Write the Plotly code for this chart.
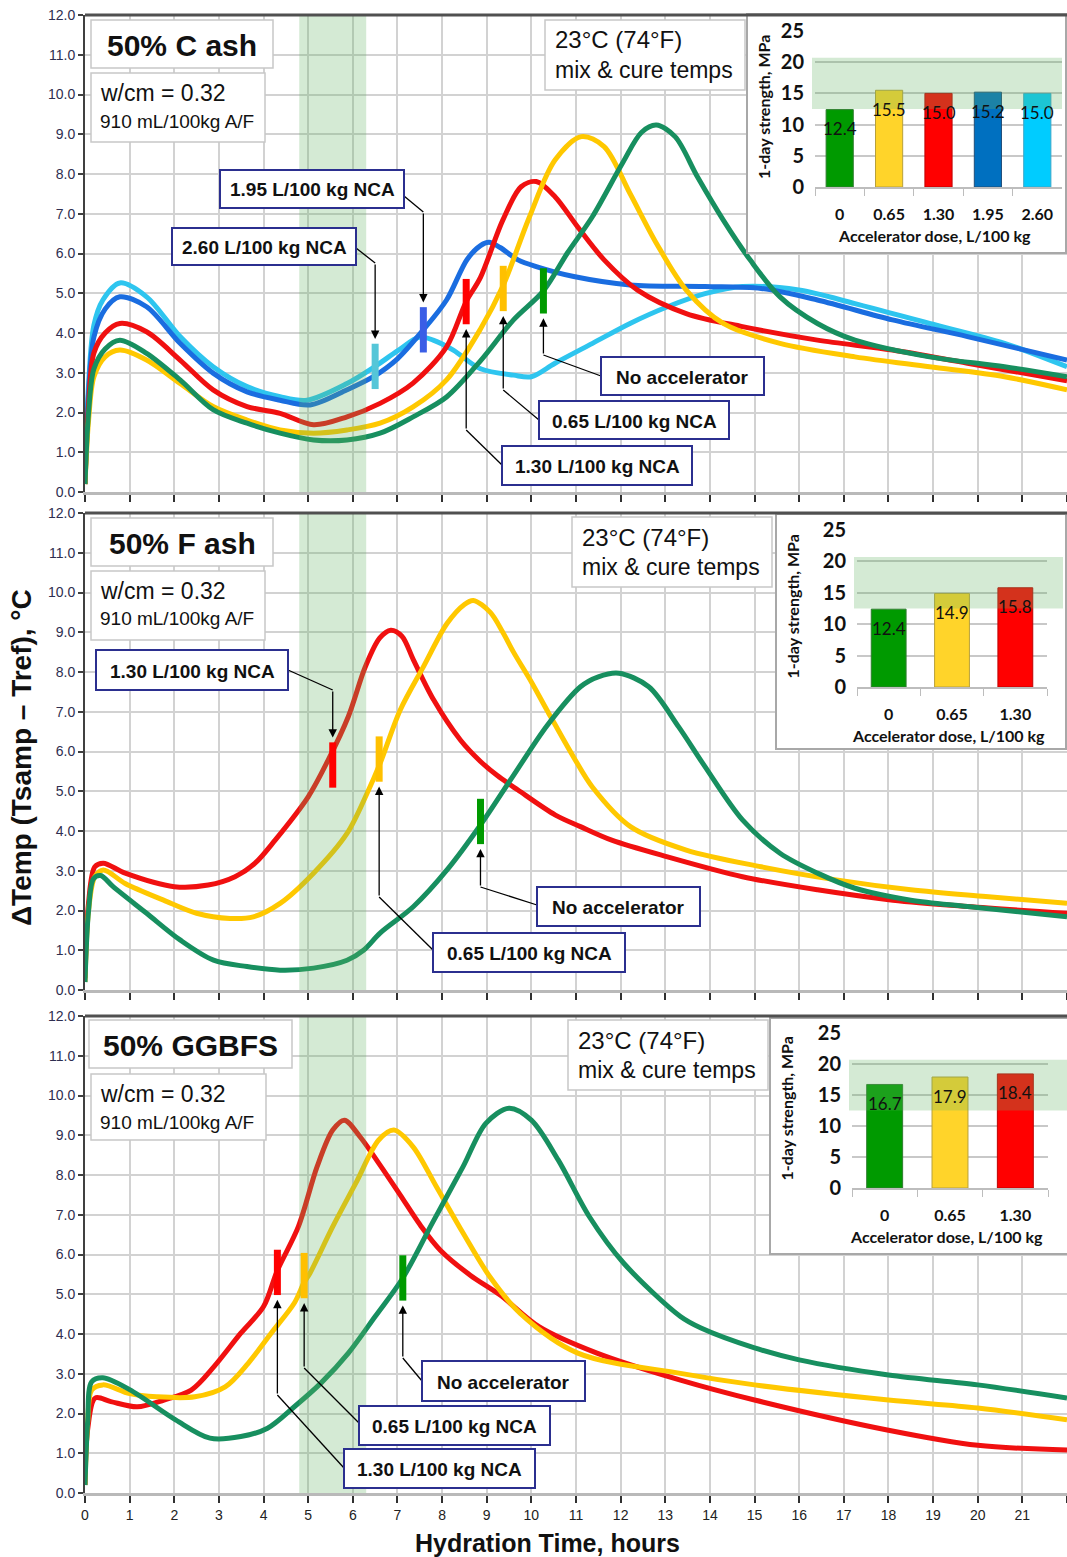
import plotly.graph_objects as go

W, H = 1067, 1557
X0_PX = 85
HOUR_PX = (1067 - 85) / 22
UNIT_PX = 477 / 12

ARIAL = "Liberation Sans, Arial, sans-serif"
CALI = "Lato, Carlito, Calibri, sans-serif"

GREEN, YELLOW, RED, BLUE, CYAN = "#178f5f", "#ffc800", "#f01010", "#1a6de0", "#2ec5ef"

# ---------------- 50% Class C fly ash ----------------
c_none_t = [0, 0.08, 0.2, 0.45, 0.78, 1.38, 2.13, 2.87, 3.63, 4.37, 5.12, 5.87, 6.61, 7.35, 8.1, 8.86, 9.6, 10.27,
            10.8, 11.37, 12.04, 12.47, 12.8, 13.22, 13.72, 14.3, 14.9, 15.57, 16.41, 17.25, 18.92, 20.6, 22]
c_none_v = [0.2, 2.0, 3.1, 3.6, 3.82, 3.49, 2.82, 2.07, 1.73, 1.48, 1.31, 1.31, 1.48, 1.89, 2.39, 3.3, 4.33, 5.06,
            6.0, 6.93, 8.27, 9.05, 9.23, 8.94, 7.93, 6.84, 5.84, 4.91, 4.24, 3.82, 3.4, 3.15, 2.9]
c_065_t = [0, 0.08, 0.2, 0.45, 0.78, 1.38, 2.13, 2.87, 3.63, 4.37, 5.12, 5.87, 6.61, 7.35, 8.1, 8.86, 9.37, 9.95,
           10.53, 11.12, 11.63, 12.21, 12.8, 13.47, 14.3, 15.57, 17.25, 18.92, 20.6, 22]
c_065_v = [0.2, 1.8, 2.9, 3.4, 3.57, 3.32, 2.73, 2.15, 1.81, 1.56, 1.48, 1.56, 1.73, 2.14, 2.82, 4.1, 5.2, 6.9,
           8.35, 8.94, 8.69, 7.51, 6.26, 5.08, 4.24, 3.74, 3.4, 3.15, 2.9, 2.57]
c_130_t = [0, 0.08, 0.2, 0.45, 0.78, 1.38, 2.13, 2.87, 3.63, 4.37, 5.12, 5.87, 6.61, 7.35, 8.1, 8.54, 8.86, 9.36,
           9.77, 10.11, 10.53, 11.03, 11.63, 12.38, 13.47, 14.73, 16.41, 18.09, 19.77, 22]
c_130_v = [0.2, 2.2, 3.5, 4.0, 4.24, 4.03, 3.32, 2.57, 2.15, 1.98, 1.69, 1.89, 2.23, 2.74, 3.65, 4.79, 5.4, 6.84,
           7.68, 7.81, 7.43, 6.68, 5.84, 5.08, 4.49, 4.16, 3.82, 3.57, 3.24, 2.8]
c_195_t = [0, 0.08, 0.2, 0.45, 0.78, 1.38, 2.13, 2.87, 3.63, 4.37, 5.04, 5.87, 6.46, 7.0, 7.58, 8.1, 8.56, 8.86,
           9.05, 9.3, 9.7, 10.11, 10.95, 12.21, 13.89, 15.15, 16.41, 18.09, 19.77, 22]
c_195_v = [0.2, 2.5, 3.9, 4.6, 4.91, 4.66, 3.74, 2.99, 2.52, 2.31, 2.19, 2.57, 2.9, 3.35, 4.08, 4.83, 5.85, 6.2,
           6.28, 6.15, 5.84, 5.67, 5.42, 5.21, 5.17, 5.12, 4.83, 4.33, 3.91, 3.32]
c_260_t = [0, 0.08, 0.2, 0.4, 0.78, 1.38, 2.13, 2.87, 3.63, 4.37, 4.97, 5.87, 6.5, 7.0, 7.5, 7.8, 8.25, 8.86, 9.6,
           10.0, 10.53, 11.37, 12.21, 13.05, 13.89, 14.73, 15.99, 17.25, 18.92, 20.6, 22]
c_260_v = [0.2, 2.7, 4.2, 4.83, 5.26, 4.91, 3.91, 3.15, 2.65, 2.4, 2.31, 2.73, 3.16, 3.55, 3.9, 3.82, 3.57, 3.1,
           2.94, 2.9, 3.24, 3.74, 4.24, 4.66, 4.99, 5.17, 5.08, 4.74, 4.24, 3.74, 3.15]
c_set_t = [10.27, 9.37, 8.54, 7.58, 6.50]
c_set_v = [5.06, 5.12, 4.79, 4.08, 3.16]
c_doses = ["0", "0.65", "1.30", "1.95", "2.60"]
c_strength = [12.4, 15.5, 15.0, 15.2, 15.0]

# ---------------- 50% Class F fly ash ----------------
f_none_t = [0, 0.08, 0.19, 0.35, 0.63, 1.38, 2.13, 2.88, 3.63, 4.37, 5.12, 5.87, 6.24, 6.61, 7.36, 8.11, 8.86, 9.6,
            10.35, 11.1, 11.5, 11.96, 12.63, 13.3, 13.89, 14.73, 15.57, 16.41, 17.25, 18.5, 19.77, 22]
f_none_v = [0.2, 2.0, 2.8, 2.88, 2.6, 1.93, 1.26, 0.75, 0.59, 0.5, 0.55, 0.75, 1.0, 1.43, 2.1, 3.02, 4.15, 5.4,
            6.65, 7.63, 7.88, 7.97, 7.63, 6.62, 5.62, 4.28, 3.44, 2.94, 2.56, 2.26, 2.1, 1.84]
f_065_t = [0, 0.08, 0.22, 0.41, 0.9, 1.76, 2.5, 3.25, 3.77, 4.37, 5.12, 5.87, 6.32, 6.61, 7.06, 7.58, 8.11, 8.5,
           8.7, 9.08, 9.36, 9.6, 10.0, 10.35, 10.95, 11.37, 12.22, 13.47, 15.15, 16.83, 18.5, 20.18, 22]
f_065_v = [0.2, 2.0, 2.85, 3.02, 2.68, 2.26, 1.93, 1.8, 1.84, 2.18, 2.94, 3.94, 4.95, 5.7, 7.04, 8.13, 9.22, 9.7,
           9.8, 9.5, 9.0, 8.5, 7.75, 7.04, 5.85, 5.1, 4.11, 3.52, 3.1, 2.77, 2.52, 2.35, 2.18]
f_130_t = [0, 0.08, 0.22, 0.41, 0.9, 2.0, 2.76, 3.36, 3.81, 4.26, 5.0, 5.45, 5.9, 6.28, 6.6, 6.85, 7.1, 7.36, 7.81,
           8.41, 8.86, 9.23, 9.7, 10.54, 11.1, 11.8, 13.05, 14.73, 16.41, 18.1, 19.77, 22]
f_130_v = [0.3, 2.2, 3.1, 3.19, 2.94, 2.6, 2.64, 2.85, 3.19, 3.77, 4.86, 5.79, 6.88, 8.13, 8.85, 9.05, 8.9, 8.3, 7.3,
           6.29, 5.75, 5.4, 5.03, 4.4, 4.11, 3.77, 3.35, 2.85, 2.52, 2.26, 2.1, 1.93]
f_set_t = [8.86, 6.59, 5.55]
f_set_v = [4.24, 5.81, 5.66]
f_doses = ["0", "0.65", "1.30"]
f_strength = [12.4, 14.9, 15.8]

# ---------------- 50% GGBFS ----------------
g_none_t = [0, 0.06, 0.15, 0.4, 1.0, 2.03, 2.8, 3.49, 4.09, 4.69, 5.29, 5.9, 6.5, 7.12, 7.78, 8.47, 8.98, 9.5,
            10.0, 10.6, 11.3, 12.07, 13.34, 13.8, 15.0, 16.0, 18.0, 20.0, 22]
g_none_v = [0.2, 1.8, 2.8, 2.9, 2.6, 1.84, 1.38, 1.42, 1.63, 2.17, 2.77, 3.52, 4.44, 5.41, 6.79, 8.21, 9.3, 9.68,
            9.38, 8.38, 6.95, 5.78, 4.44, 4.15, 3.65, 3.35, 2.97, 2.72, 2.39]
g_065_t = [0, 0.06, 0.15, 0.4, 1.0, 1.6, 2.46, 3.14, 3.66, 4.17, 4.69, 4.91, 5.04, 5.55, 6.07, 6.58, 6.92, 7.35,
           7.87, 8.47, 9.07, 9.75, 11.04, 13.34, 15.0, 18.0, 20.0, 22]
g_065_v = [0.2, 1.8, 2.59, 2.72, 2.5, 2.42, 2.42, 2.67, 3.27, 4.02, 4.78, 5.3, 5.53, 6.7, 7.8, 8.88, 9.13, 8.71,
           7.71, 6.54, 5.44, 4.52, 3.52, 3.01, 2.72, 2.34, 2.14, 1.84]
g_130_t = [0, 0.06, 0.23, 0.58, 1.17, 1.77, 2.38, 2.89, 3.49, 4.0, 4.31, 4.78, 5.2, 5.55, 5.81, 6.17, 6.61, 7.06,
           7.51, 7.96, 8.63, 9.3, 10.18, 11.47, 13.34, 15.0, 18.0, 20.0, 22]
g_130_v = [0.2, 1.6, 2.39, 2.3, 2.17, 2.34, 2.59, 3.18, 4.02, 4.69, 5.6, 6.7, 8.21, 9.13, 9.38, 8.95, 8.25, 7.5,
           6.74, 6.11, 5.48, 4.98, 4.18, 3.52, 2.84, 2.34, 1.58, 1.2, 1.08]
g_set_t = [7.12, 4.91, 4.31]
g_set_v = [5.41, 5.47, 5.55]
g_doses = ["0", "0.65", "1.30"]
g_strength = [16.7, 17.9, 18.4]

# shaded time window (hours) and target strength range (MPa)
window_hours = [4.8, 6.3]
target_mpa = [12.5, 20.7]

MARK_HALF = 0.57


def fx(p):
    return p / W


def fy(p):
    return 1 - p / H


panels = [
    dict(top=15, bottom=492, title="50% C ash", title_box=(91, 20, 273, 68), info_box=(91, 73, 265, 142),
         temp_box=(545, 20, 745, 90),
         curves=[(c_260_t, c_260_v, CYAN), (c_195_t, c_195_v, BLUE), (c_130_t, c_130_v, RED),
                 (c_065_t, c_065_v, YELLOW), (c_none_t, c_none_v, GREEN)],
         set_t=c_set_t, set_v=c_set_v, set_colors=["#009a00", "#ffc000", "#ff0000", "#3a5ee6", "#55c6d8"],
         doses=c_doses, strength=c_strength,
         bar_colors=["#009a00", "#ffd42a", "#ff0000", "#0070c0", "#00ccff"],
         bar_lines=["#2e7d2e", "#b8a03a", "#c00000", "#1f4e79", "#3aa6c8"],
         inset_box=(748, 15, 1065, 252), inset_plot=(815, 31, 1062, 187), band_right=1062,
         callouts=[("1.95 L/100 kg NCA", (220, 170, 404, 208), 3, (404, 196), 212, False),
                   ("2.60 L/100 kg NCA", (172, 228, 356, 265), 4, (356, 248), 263, False),
                   ("No accelerator", (601, 357, 764, 395), 0, (601, 376), 355, True),
                   ("0.65 L/100 kg NCA", (539, 401, 729, 439), 1, (539, 420), 390, True),
                   ("1.30 L/100 kg NCA", (502, 446, 692, 485), 2, (502, 465), 430, True)]),
    dict(top=513, bottom=990, title="50% F ash", title_box=(91, 518, 273, 566), info_box=(91, 571, 265, 640),
         temp_box=(572, 517, 772, 587),
         curves=[(f_130_t, f_130_v, RED), (f_065_t, f_065_v, YELLOW), (f_none_t, f_none_v, GREEN)],
         set_t=f_set_t, set_v=f_set_v, set_colors=["#009a00", "#ffc000", "#ff0000"],
         doses=f_doses, strength=f_strength,
         bar_colors=["#009a00", "#ffd42a", "#ff0000"], bar_lines=["#2e7d2e", "#b8a03a", "#c00000"],
         inset_box=(777, 515, 1065, 748), inset_plot=(857, 530, 1047, 687), band_right=1063,
         callouts=[("1.30 L/100 kg NCA", (96, 650, 288, 690), 2, (288, 670), 690, False),
                   ("No accelerator", (537, 887, 700, 926), 0, (537, 905), 887, True),
                   ("0.65 L/100 kg NCA", (433, 933, 625, 972), 1, (433, 950), 897, True)]),
    dict(top=1016, bottom=1493, title="50% GGBFS", title_box=(89, 1020, 292, 1068), info_box=(91, 1074, 266, 1140),
         temp_box=(568, 1020, 768, 1090),
         curves=[(g_130_t, g_130_v, RED), (g_065_t, g_065_v, YELLOW), (g_none_t, g_none_v, GREEN)],
         set_t=g_set_t, set_v=g_set_v, set_colors=["#009a00", "#ffc000", "#ff0000"],
         doses=g_doses, strength=g_strength,
         bar_colors=["#009a00", "#ffd42a", "#ff0000"], bar_lines=["#2e7d2e", "#b8a03a", "#c00000"],
         inset_box=(771, 1019, 1067, 1253), inset_plot=(852, 1033, 1048, 1188), band_right=1067,
         callouts=[("No accelerator", (422, 1361, 585, 1401), 0, (422, 1381), 1358, True),
                   ("0.65 L/100 kg NCA", (359, 1406, 550, 1445), 1, (359, 1423), 1368, True),
                   ("1.30 L/100 kg NCA", (344, 1449, 535, 1488), 2, (344, 1468), 1395, True)]),
]

fig = go.Figure()
shapes, annotations = [], []
layout = {}

for i, p in enumerate(panels):
    n = i + 1
    xa, ya = f"x{'' if n == 1 else n}", f"y{'' if n == 1 else n}"
    # main time-temperature axes
    layout[f"xaxis{'' if n == 1 else n}"] = dict(
        domain=[fx(X0_PX), 1], range=[0, 22], anchor=ya, dtick=1, tick0=0, automargin=False,
        showgrid=True, gridcolor="#d2d2d2", gridwidth=2, zeroline=False,
        showline=True, linecolor="#b9b9b9", linewidth=3,
        ticks="outside", ticklen=7, tickwidth=2, tickcolor="#303030",
        showticklabels=(n == 3), tickfont=dict(family=ARIAL, size=14, color="#222"))
    layout[f"yaxis{'' if n == 1 else n}"] = dict(
        domain=[fy(p["bottom"]), fy(p["top"])], range=[0, 12], anchor=xa, dtick=1, tick0=0, automargin=False,
        tickformat=".1f", showgrid=True, gridcolor="#d2d2d2", gridwidth=2, zeroline=False,
        showline=True, linecolor="#404040", linewidth=2,
        ticks="outside", ticklen=5, tickwidth=2, tickcolor="#404040",
        tickfont=dict(family=ARIAL, size=14, color="#2e2e50"))

    for t, v, col in p["curves"]:
        fig.add_trace(go.Scatter(x=t, y=v, mode="lines", line=dict(color=col, width=5, shape="spline",
                                                                    smoothing=0.9),
                                 xaxis=xa, yaxis=ya, showlegend=False, hoverinfo="skip"))
    # shaded window drawn over the curves
    b0, b1 = window_hours
    fig.add_trace(go.Scatter(x=[b0, b1, b1, b0, b0], y=[0, 0, 12, 12, 0], mode="lines", fill="toself",
                             fillcolor="rgba(100,180,100,0.28)", line=dict(width=0),
                             xaxis=xa, yaxis=ya, showlegend=False, hoverinfo="skip"))
    # set-time markers
    for t, v, col in zip(p["set_t"], p["set_v"], p["set_colors"]):
        fig.add_trace(go.Scatter(x=[t, t], y=[v - MARK_HALF, v + MARK_HALF], mode="lines",
                                 line=dict(color=col, width=7), xaxis=xa, yaxis=ya,
                                 showlegend=False, hoverinfo="skip"))

    # top frame line
    shapes.append(dict(type="line", xref="paper", yref="paper", x0=fx(X0_PX), x1=1,
                       y0=fy(p["top"]), y1=fy(p["top"]), line=dict(color="#505050", width=3)))

    # text boxes
    for box in (p["title_box"], p["info_box"], p["temp_box"]):
        shapes.append(dict(type="rect", xref="paper", yref="paper", x0=fx(box[0]), x1=fx(box[2]),
                           y0=fy(box[3]), y1=fy(box[1]), fillcolor="white",
                           line=dict(color="#c8c8c8", width=1.5), layer="above"))
    tb = p["title_box"]
    annotations.append(dict(xref="paper", yref="paper", x=fx((tb[0] + tb[2]) / 2), y=fy((tb[1] + tb[3]) / 2 + 1),
                            text="<b>" + p["title"] + "</b>", showarrow=False, xanchor="center", yanchor="middle",
                            font=dict(family=ARIAL, size=30, color="#111")))
    ib = p["info_box"]
    annotations.append(dict(xref="paper", yref="paper", x=fx(ib[0] + 7), y=fy(ib[1] + 20), text="w/cm = 0.32",
                            showarrow=False, xanchor="left", yanchor="middle",
                            font=dict(family=ARIAL, size=23, color="#111")))
    annotations.append(dict(xref="paper", yref="paper", x=fx(ib[0] + 7), y=fy(ib[1] + 48),
                            text="910 mL/100kg A/F", showarrow=False, xanchor="left", yanchor="middle",
                            font=dict(family=ARIAL, size=19, color="#111")))
    mb = p["temp_box"]
    annotations.append(dict(xref="paper", yref="paper", x=fx(mb[0] + 8), y=fy(mb[1] + 20), text="23°C (74°F)",
                            showarrow=False, xanchor="left", yanchor="middle",
                            font=dict(family=ARIAL, size=24, color="#111")))
    annotations.append(dict(xref="paper", yref="paper", x=fx(mb[0] + 8), y=fy(mb[1] + 50),
                            text="mix &amp; cure temps", showarrow=False, xanchor="left", yanchor="middle",
                            font=dict(family=ARIAL, size=23, color="#111")))

    # callout boxes with elbow connectors to the markers
    for label, box, idx, edge, elbow_y, upward in p["callouts"]:
        t, v = p["set_t"][idx], p["set_v"][idx]
        tip_v = v - MARK_HALF - 0.12 if upward else v + MARK_HALF + 0.12
        tip_x = X0_PX + t * HOUR_PX
        tip_y = p["top"] + (12 - tip_v) * UNIT_PX
        shapes.append(dict(type="line", xref="paper", yref="paper", x0=fx(edge[0]), y0=fy(edge[1]),
                           x1=fx(tip_x), y1=fy(elbow_y), line=dict(color="black", width=1.3), layer="above"))
        annotations.append(dict(xref=xa, yref=ya, x=t, y=tip_v, ax=0, ay=elbow_y - tip_y, text="",
                                showarrow=True, arrowhead=2, arrowsize=1.3, arrowwidth=1.3, arrowcolor="black",
                                standoff=0))
        shapes.append(dict(type="rect", xref="paper", yref="paper", x0=fx(box[0]), x1=fx(box[2]),
                           y0=fy(box[3]), y1=fy(box[1]), fillcolor="white",
                           line=dict(color="#2b2f8f", width=2), layer="above"))
        annotations.append(dict(xref="paper", yref="paper", x=fx((box[0] + box[2]) / 2),
                                y=fy((box[1] + box[3]) / 2 + 1), text="<b>" + label + "</b>", showarrow=False,
                                xanchor="center", yanchor="middle",
                                font=dict(family=ARIAL, size=19, color="#111")))

    # inset frame (its own subplot so it hides the grid underneath)
    k = n + 3
    bx = p["inset_box"]
    layout[f"xaxis{k}"] = dict(domain=[fx(bx[0]), fx(bx[2])], range=[0, 1], anchor=f"y{k}", showgrid=False,
                               zeroline=False, showticklabels=False, ticks="", showline=True, mirror=True,
                               linecolor="#a8a8a8", linewidth=2, automargin=False)
    layout[f"yaxis{k}"] = dict(domain=[fy(bx[3]), fy(bx[1])], range=[0, 1], anchor=f"x{k}", showgrid=False,
                               zeroline=False, showticklabels=False, ticks="", showline=True, mirror=True,
                               linecolor="#a8a8a8", linewidth=2, automargin=False)
    fig.add_trace(go.Scatter(x=[None], y=[None], xaxis=f"x{k}", yaxis=f"y{k}", showlegend=False,
                             hoverinfo="skip"))

    # inset: 1-day strength bars
    m = n + 6
    ip = p["inset_plot"]
    layout[f"xaxis{m}"] = dict(domain=[fx(ip[0]), fx(ip[2])], anchor=f"y{m}", type="category", automargin=False,
                               showgrid=False, zeroline=False, showline=True, linecolor="#bdbdbd", linewidth=1.5,
                               ticks="outside", tickson="boundaries", ticklen=7, tickcolor="#bdbdbd",
                               ticklabelstandoff=12,
                               tickfont=dict(family=CALI, size=16, color="#111", weight="bold"))
    layout[f"yaxis{m}"] = dict(domain=[fy(ip[3]), fy(ip[1])], anchor=f"x{m}", range=[0, 25], dtick=5,
                               automargin=False,
                               showgrid=True, gridcolor="#c8c8c8", gridwidth=1.5, zeroline=False, showline=False,
                               ticks="", ticklabelstandoff=10,
                               tickfont=dict(family=CALI, size=20, color="#111", weight="bold"))
    fig.add_trace(go.Bar(x=p["doses"], y=p["strength"], width=0.55,
                         marker=dict(color=p["bar_colors"], line=dict(color=p["bar_lines"], width=1)),
                         xaxis=f"x{m}", yaxis=f"y{m}", showlegend=False, hoverinfo="skip"))
    for j, s in enumerate(p["strength"]):
        annotations.append(dict(xref=f"x{m}", yref=f"y{m}", x=j, y=s, yshift=-19, text=f"{s:.1f}",
                                showarrow=False, xanchor="center", yanchor="middle",
                                font=dict(family=CALI, size=17, color="#111")))
    shapes.append(dict(type="rect", xref="paper", yref=f"y{m}", x0=fx(ip[0] - 3), x1=fx(p["band_right"]),
                       y0=target_mpa[0], y1=target_mpa[1], fillcolor="rgba(100,180,100,0.28)",
                       line=dict(width=0), layer="above"))
    annotations.append(dict(xref="paper", yref="paper", x=fx(bx[0] + 15), y=fy((ip[1] + ip[3]) / 2 - 2),
                            text="<b>1-day strength, MPa</b>", textangle=-90, showarrow=False,
                            xanchor="center", yanchor="middle", font=dict(family=CALI, size=16, color="#111")))
    annotations.append(dict(xref="paper", yref="paper", x=fx((ip[0] + ip[2]) / 2 - 4), y=fy(ip[3] + 48),
                            text="Accelerator dose, L/100 kg", showarrow=False, xanchor="center",
                            yanchor="middle", font=dict(family=CALI, size=16, color="#111", weight="bold")))

# axis titles
annotations.append(dict(xref="paper", yref="paper", x=fx(22), y=fy(758), text="<b>ΔTemp (Tsamp – Tref), °C</b>",
                        textangle=-90, showarrow=False, xanchor="center", yanchor="middle",
                        font=dict(family=ARIAL, size=28, color="#111")))
annotations.append(dict(xref="paper", yref="paper", x=fx(547), y=fy(1543), text="<b>Hydration Time, hours</b>",
                        showarrow=False, xanchor="center", yanchor="middle",
                        font=dict(family=ARIAL, size=25, color="#111")))

fig.update_layout(width=W, height=H, margin=dict(l=0, r=0, t=0, b=0, autoexpand=False), paper_bgcolor="white",
                  plot_bgcolor="white", shapes=shapes, annotations=annotations, bargap=0.45, **layout)

# the page body has no margin so the figure sits at the window origin
fig.write_html("out.html", post_script="document.body.style.margin='0px';")
